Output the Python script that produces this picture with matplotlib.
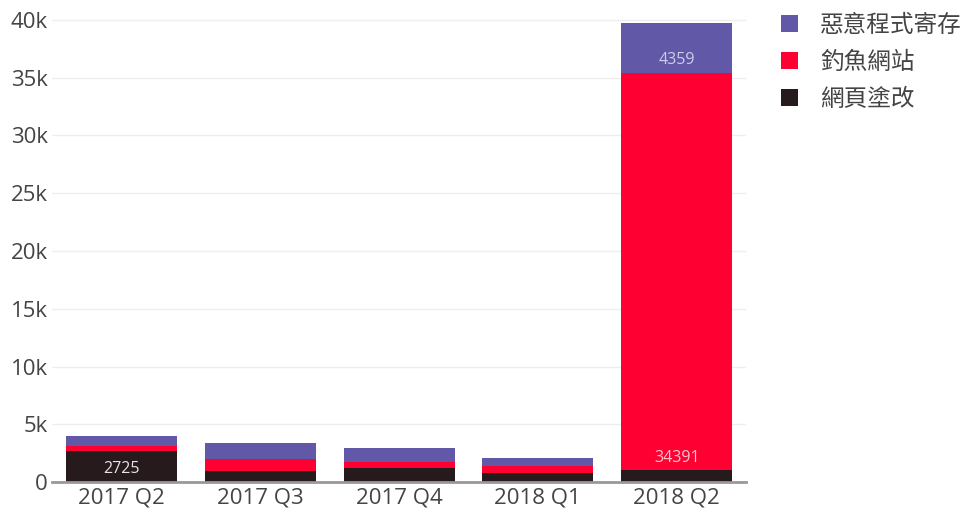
import matplotlib
matplotlib.use("Agg")
import matplotlib.pyplot as plt
from matplotlib.patches import Patch
from matplotlib.ticker import FuncFormatter

categories = ["2017 Q2", "2017 Q3", "2017 Q4", "2018 Q1", "2018 Q2"]
series_names = ["網頁塗改", "釣魚網站", "惡意程式寄存"]
defacement = [2725, 980, 1240, 750, 1000]
phishing = [370, 1040, 520, 640, 34391]
malware = [910, 1340, 1190, 670, 4359]
labels_shown = {(0, 0): "2725", (1, 4): "34391", (2, 4): "4359"}

colors = ["#261a1d", "#ff0033", "#6159a8"]
text_colors = ["#e8e4e6", "#ffc2cc", "#cfcbe8"]

plt.rcParams['font.family'] = ['Open Sans', 'Noto Sans CJK TC', 'DejaVu Sans']

fig = plt.figure(figsize=(9.67, 5.15), dpi=100)
ax = fig.add_axes([0.0538, 0.064, 0.7177, 0.904])

x = list(range(len(categories)))
series = [defacement, phishing, malware]
bottom = [0] * len(categories)
for si, vals in enumerate(series):
    ax.bar(x, vals, width=0.8, bottom=bottom, color=colors[si], zorder=3, linewidth=0)
    for i in x:
        if (si, i) in labels_shown:
            ax.text(i, bottom[i] + 1100, labels_shown[(si, i)], ha="center", va="center",
                    fontsize=11.5, color=text_colors[si], zorder=4)
    bottom = [b + v for b, v in zip(bottom, vals)]

ax.set_xlim(-0.5, 4.5)
ax.set_ylim(0, 40300)
ax.set_yticks(range(0, 40001, 5000))
ax.yaxis.set_major_formatter(FuncFormatter(lambda v, p: "0" if v == 0 else f"{int(v/1000)}k"))
ax.set_xticks(x)
ax.set_xticklabels(categories)
ax.tick_params(axis="both", labelsize=16, colors="#444444", length=0)
ax.tick_params(axis="y", pad=3)
ax.tick_params(axis="x", pad=4)
ax.grid(axis="y", color="#eeeeee", linewidth=1, zorder=0)
for s in ["top", "right", "left"]:
    ax.spines[s].set_visible(False)
ax.spines["bottom"].set_color("#999999")
ax.spines["bottom"].set_linewidth(2)
ax.spines["bottom"].set_zorder(5)

legend_handles = [Patch(facecolor=colors[i], label=series_names[i]) for i in [2, 1, 0]]
leg = fig.legend(handles=legend_handles, loc="upper left", bbox_to_anchor=(0.786, 1.014),
                 frameon=False, fontsize=17, handlelength=0.72, handleheight=0.72,
                 handletextpad=0.92, labelspacing=0.55, labelcolor="#444444")

fig.savefig("out.png", dpi=100)
